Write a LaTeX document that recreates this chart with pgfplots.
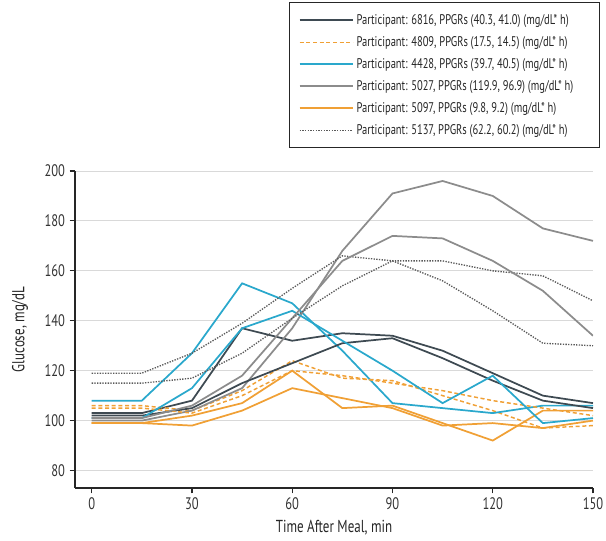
\documentclass[border=0pt]{standalone}
\usepackage{fontspec}
\setmainfont{PT Sans}[FakeStretch=0.75]
\usepackage{pgfplots}
\pgfplotsset{compat=1.18}
\definecolor{cDark}{HTML}{3E4A52}
\definecolor{cOrange}{HTML}{F0A035}
\definecolor{cCyan}{HTML}{2AA8CC}
\definecolor{cGray}{HTML}{8C8C8C}
\definecolor{cDot}{HTML}{5A5A5A}
\begin{document}
\begin{tikzpicture}
\begin{axis}[
  at={(0,0)}, anchor=south west,
  scale only axis, width=388.5pt, height=237.75pt,
  xmin=-5, xmax=150, ymin=73, ymax=200,
  axis x line*=bottom, axis y line*=left,
  axis line style={line width=1pt, black!85, -},
  xtick={0,30,...,150}, ytick={80,100,...,200},
  ymajorgrids, grid style={black!15, line width=0.7pt},
  tick align=outside, major tick length=4pt, tick style={black!85, line width=0.8pt},
  tick label style={font=\fontsize{12.5}{14}\selectfont, text=black!80},
  /pgf/number format/assume math mode=true,
  xlabel={Time After Meal, min}, ylabel={Glucose, mg/dL},
  xlabel style={at={(axis description cs:0.5,-0.126)}, anchor=center, font=\fontsize{13}{15}\selectfont, text=black!85},
  ylabel style={at={(axis description cs:-0.106,0.5)}, anchor=center, font=\fontsize{13}{15}\selectfont, text=black!85},
  legend style={at={(axis description cs:1.0135,1.533)}, anchor=north east, draw=black!85, line width=0.8pt,
    font=\fontsize{10.5}{12}\selectfont, text=black!85, row sep=3.5pt, inner xsep=7pt, inner ysep=6.75pt},
  legend cell align=left,
  legend image code/.code={\draw[#1] (0pt,0pt) -- (40pt,0pt);},
]
% 6816
\addplot[cDark, line width=1.3pt] coordinates {(0,103) (15,103) (30,108) (45,137) (60,132) (75,135) (90,134) (105,128) (120,119) (135,110) (150,107)};
\addlegendentry{Participant: 6816, PPGRs (40.3, 41.0) (mg/dL* h)\hspace*{14pt}}
% 4809
\addplot[cOrange, line width=1.1pt, densely dashed] coordinates {(0,106) (15,106) (30,104) (45,112) (60,124) (75,117) (90,116) (105,110) (120,104) (135,97) (150,98)};
\addlegendentry{Participant: 4809, PPGRs (17.5, 14.5) (mg/dL* h)}
% 4428
\addplot[cCyan, line width=1.3pt] coordinates {(0,108) (15,108) (30,127) (45,155) (60,147) (75,128) (90,107) (105,105) (120,103) (135,106) (150,106)};
\addlegendentry{Participant: 4428, PPGRs (39.7, 40.5) (mg/dL* h)}
% 5027
\addplot[cGray, line width=1.3pt] coordinates {(0,100) (15,100) (30,104) (45,113) (60,137) (75,168) (90,191) (105,196) (120,190) (135,177) (150,172)};
\addlegendentry{Participant: 5027, PPGRs (119.9, 96.9) (mg/dL* h)}
% 5097
\addplot[cOrange, line width=1.3pt] coordinates {(0,99) (15,99) (30,102) (45,107) (60,120) (75,105) (90,106) (105,99) (120,92) (135,104) (150,104)};
\addlegendentry{Participant: 5097, PPGRs (9.8, 9.2) (mg/dL* h)}
% 5137
\addplot[cDot, line width=1pt, densely dotted] coordinates {(0,119) (15,119) (30,127) (45,139) (60,153) (75,166) (90,164) (105,164) (120,160) (135,158) (150,148)};
\addlegendentry{Participant: 5137, PPGRs (62.2, 60.2) (mg/dL* h)}
% second replicates
\addplot[cDark, line width=1.3pt, forget plot] coordinates {(0,102) (15,102) (30,105) (45,115) (60,123) (75,131) (90,133) (105,125) (120,116) (135,108) (150,105)};
\addplot[cOrange, line width=1.1pt, densely dashed, forget plot] coordinates {(0,105) (15,105) (30,103) (45,110) (60,120) (75,118) (90,115) (105,112) (120,108) (135,105) (150,102)};
\addplot[cCyan, line width=1.3pt, forget plot] coordinates {(0,101) (15,101) (30,113) (45,137) (60,144) (75,132) (90,120) (105,107) (120,118) (135,99) (150,101)};
\addplot[cGray, line width=1.3pt, forget plot] coordinates {(0,101) (15,101) (30,106) (45,118) (60,141) (75,164) (90,174) (105,173) (120,164) (135,152) (150,134)};
\addplot[cOrange, line width=1.3pt, forget plot] coordinates {(0,99) (15,99) (30,98) (45,104) (60,113) (75,109) (90,105) (105,98) (120,99) (135,97) (150,100)};
\addplot[cDot, line width=1pt, densely dotted, forget plot] coordinates {(0,115) (15,115) (30,117) (45,127) (60,141) (75,154) (90,164) (105,156) (120,144) (135,131) (150,130)};
\end{axis}
\pgfresetboundingbox
\useasboundingbox (-56.25pt,-39.75pt) rectangle (398.25pt,366pt);
\end{tikzpicture}
\end{document}
